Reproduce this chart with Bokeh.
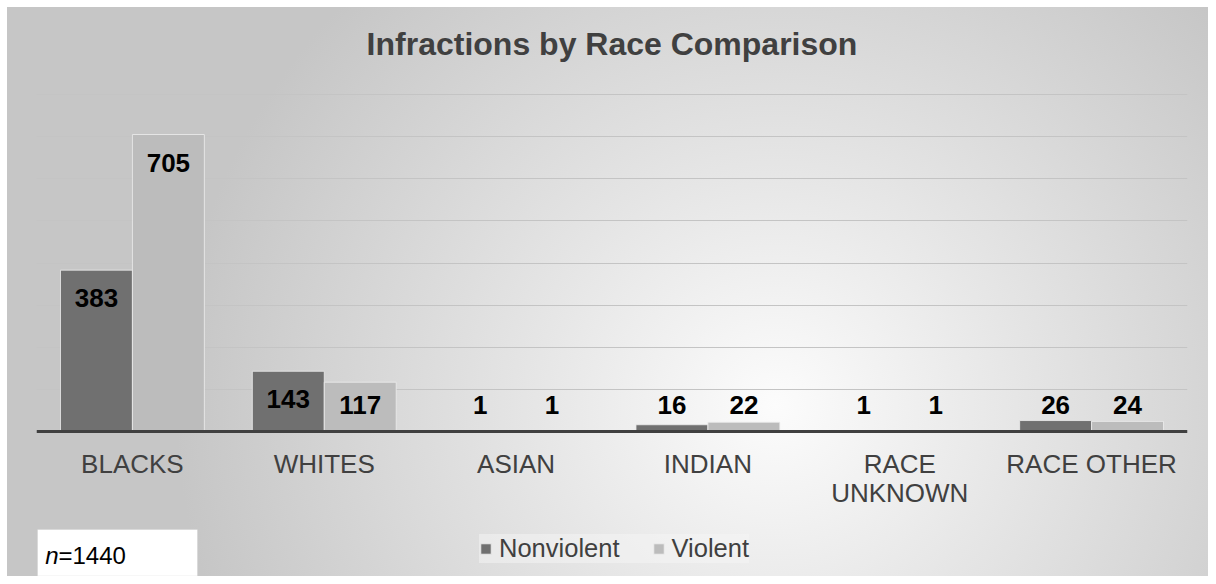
from bokeh.plotting import figure
from bokeh.models import (ColumnDataSource, FactorRange, Range1d, Legend, LegendItem,
                          Label, BoxAnnotation, SingleIntervalTicker, CategoricalAxis)
from bokeh.transform import dodge
from bokeh.core.properties import value
from bokeh.embed import file_html
from bokeh.resources import INLINE

# ---- data ----
categories = ["BLACKS", "WHITES", "ASIAN", "INDIAN", "RACE UNKNOWN", "RACE OTHER"]
nonviolent = [383, 143, 1, 16, 1, 26]
violent = [705, 117, 1, 22, 1, 24]
series_names = ["Nonviolent", "Violent"]
n_total = 1440
title_text = "Infractions by Race Comparison"
axis_max = 800
grid_step = 100
wrapped = {"RACE UNKNOWN": ["RACE", "UNKNOWN"]}

FONT = "Liberation Sans"
DARK = "#707070"
LIGHT = "#bcbcbc"
TXT = "#404040"

# ---- layout (pixels) ----
W, H = 1208, 576
frame_left, frame_right = 36, 1187
baseline_px = 431
top_grid_px = 94
px_per_unit = (baseline_px - top_grid_px) / axis_max
y_start = -(H - baseline_px) / px_per_unit
y_end = baseline_px / px_per_unit

def label_pos(vals):
    # inside-end labels, kept above the baseline for short bars
    return [max(v - 67, 62) for v in vals]

src = ColumnDataSource(data=dict(
    cat=categories,
    nv=nonviolent,
    vi=violent,
    nv_txt=[str(v) for v in nonviolent],
    vi_txt=[str(v) for v in violent],
    nv_y=label_pos(nonviolent),
    vi_y=label_pos(violent),
))

p = figure(
    x_range=FactorRange(*categories),
    y_range=Range1d(y_start, y_end),
    width=W, height=H,
    output_backend="svg", toolbar_location=None,
    x_axis_location=None, y_axis_location=None,
    min_border_left=frame_left, min_border_right=W - frame_right,
    min_border_top=0, min_border_bottom=0,
)
p.background_fill_color = None
p.border_fill_color = None
p.outline_line_color = None
p.styles = {
    "background": "radial-gradient(ellipse 600px 580px at 64% 70%, #fcfcfc 0%, #e6e6e6 40%, #c6c6c6 100%) 7px 7px / 1201px 569px no-repeat, #ffffff"
}

# title
p.add_layout(Label(x=(frame_right - frame_left) / 2, y=H - 43,
                   x_units="screen", y_units="screen", text=title_text,
                   text_align="center", text_baseline="middle", text_font=FONT,
                   text_font_size="32px", text_font_style="bold", text_color=TXT))

# grid
p.xgrid.grid_line_color = None
p.ygrid.ticker = SingleIntervalTicker(interval=grid_step)
p.ygrid.bounds = (0, axis_max)
p.ygrid.grid_line_color = "#c4c4c4"
p.ygrid.grid_line_width = 1.2

# bars
w = 0.375
r_nv = p.vbar(x=dodge("cat", -w / 2, range=p.x_range), top="nv", width=w, source=src,
              fill_color=DARK, line_color="#eeeeee", line_width=1, line_alpha=0.8)
r_vi = p.vbar(x=dodge("cat", w / 2, range=p.x_range), top="vi", width=w, source=src,
              fill_color=LIGHT, line_color="#eeeeee", line_width=1, line_alpha=0.8)

# data labels
for col_y, col_t, off in (("nv_y", "nv_txt", -w / 2), ("vi_y", "vi_txt", w / 2)):
    p.text(x=dodge("cat", off, range=p.x_range), y=col_y, text=col_t, source=src,
           text_align="center", text_baseline="middle",
           text_font=value(FONT), text_font_size="26px", text_font_style="bold",
           text_color="#000000")

# category axis labels: two lines via two factor ranges sharing the same slots
line1 = [wrapped[c][0] if c in wrapped else c for c in categories]
line2 = [wrapped[c][1] if c in wrapped else " " * (i + 1) for i, c in enumerate(categories)]
p.extra_x_ranges = {"line1": FactorRange(*line1), "line2": FactorRange(*line2)}

def make_axis(rng, standoff, show_line):
    a = CategoricalAxis(
        x_range_name=rng, fixed_location=0,
        axis_line_color=TXT if show_line else None, axis_line_width=3,
        major_tick_line_color=None, minor_tick_line_color=None,
        major_tick_out=0, major_tick_in=0, major_label_standoff=standoff,
        major_label_text_font=FONT, major_label_text_font_size="26px",
        major_label_text_color=TXT,
    )
    p.add_layout(a, "below")
    return a

make_axis("line2", 46, False)
make_axis("line1", 17, True)

# legend
legend = Legend(
    items=[LegendItem(label=series_names[0], renderers=[r_nv]),
           LegendItem(label=series_names[1], renderers=[r_vi])],
    orientation="horizontal",
    location=(443, 13),
    glyph_width=13, glyph_height=13,
    label_text_font=FONT, label_text_font_size="25.5px", label_text_color=TXT,
    label_standoff=7, spacing=32, padding=12, margin=0,
    background_fill_color="#f6f6f6", background_fill_alpha=0.5,
    border_line_color=None,
)
p.add_layout(legend, "center")

# n box
box = BoxAnnotation(left=1, right=161, top=47, bottom=0.5,
                    left_units="screen", right_units="screen",
                    top_units="screen", bottom_units="screen",
                    fill_color="white", fill_alpha=1.0,
                    line_color="#c8c8c8", line_width=1)
p.add_layout(box)
p.add_layout(Label(x=22, y=21, x_units="screen", y_units="screen", text="n",
                   text_align="right", text_baseline="middle", text_font=FONT,
                   text_font_size="24px", text_font_style="italic", text_color="#000000"))
p.add_layout(Label(x=22, y=21, x_units="screen", y_units="screen", text="=" + str(n_total),
                   text_align="left", text_baseline="middle", text_font=FONT,
                   text_font_size="24px", text_color="#000000"))

open("out.html", "w").write(file_html(p, INLINE))
